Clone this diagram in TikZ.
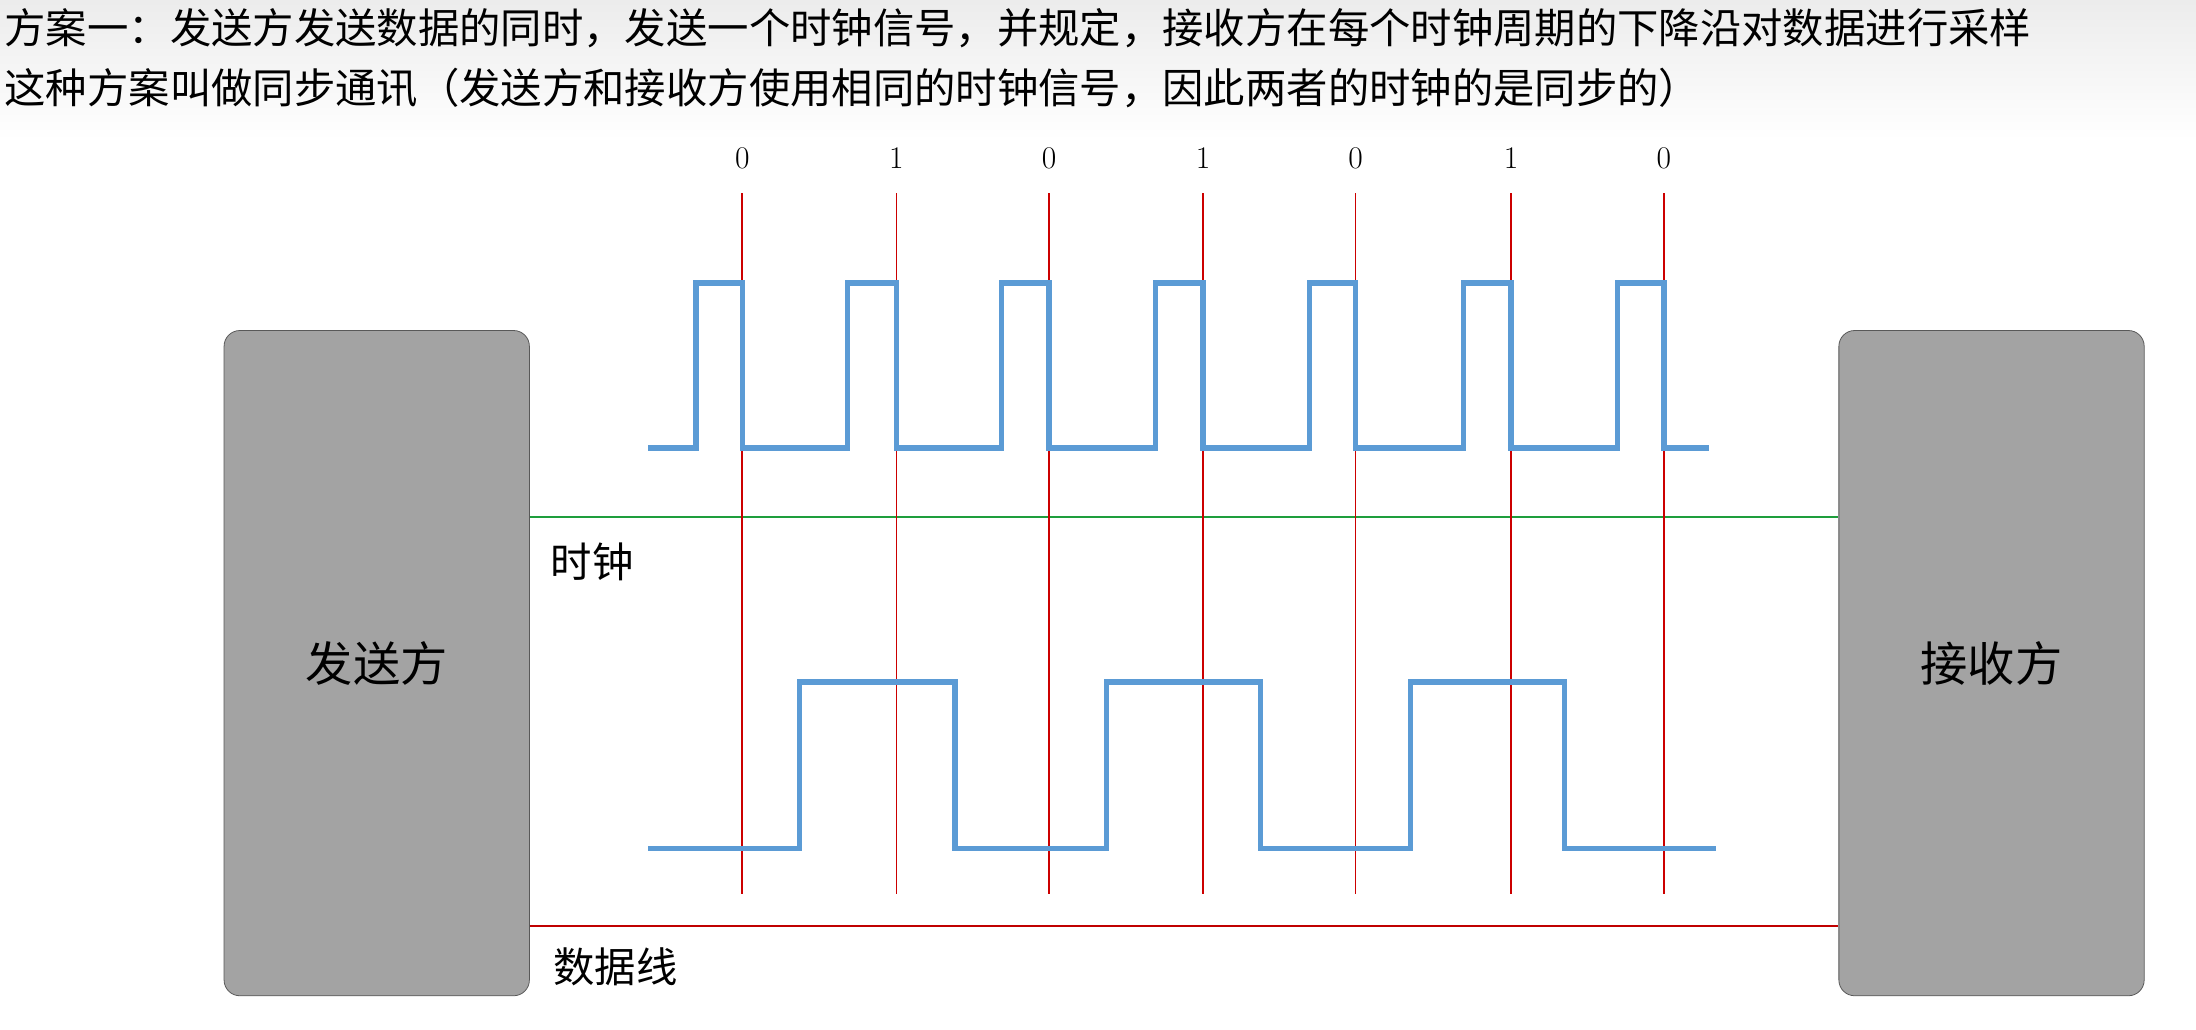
\documentclass[tikz,border=0pt]{standalone}
\usepackage{fontspec}
\newfontfamily\cjk{Noto Sans CJK SC}
\usetikzlibrary{positioning}
\definecolor{sigblue}{HTML}{5B9BD5}
\definecolor{boxgray}{HTML}{A3A3A3}
\definecolor{lineRed}{HTML}{C00000}
\definecolor{lineGreen}{HTML}{1E9E3C}

\begin{document}
\begin{tikzpicture}[x=0.025cm,y=-0.025cm,
    party/.style={draw=gray!70!black,fill=boxgray,rounded corners=8pt,minimum width=218*0.025cm,minimum height=475*0.025cm,font=\cjk\fontsize{24}{28}\selectfont},
    sig/.style={sigblue,line width=2.8pt},
    tick/.style={red!80!black,line width=0.8pt},
    lab/.style={font=\cjk\fontsize{21}{25}\selectfont,anchor=west,inner sep=0pt}]
    \useasboundingbox (0,0) rectangle (1568,735);
    % header
    \fill[top color=gray!15,bottom color=white] (0,0) rectangle (1568,100);
    \node[lab] (head1) at (3,20) {方案一：发送方发送数据的同时，发送一个时钟信号，并规定，接收方在每个时钟周期的下降沿对数据进行采样};
    \node[lab] (head2) at (3,63) {这种方案叫做同步通讯（发送方和接收方使用相同的时钟信号，因此两者的时钟的是同步的）};

    % the two parties
    \node[party] (send) at (269,473.5) {发送方};
    \node[party] (recv) at (1422,473.5) {接收方};

    % clock and data lines
    \draw[lineGreen,line width=1.2pt] (send.east |- 0,369) -- (recv.west |- 0,369);
    \node[lab] (clk) at (393,401) {时钟};
    \draw[lineRed,line width=1.2pt] (send.east |- 0,661) -- (recv.west |- 0,661);
    \node[lab] (dat) at (395,690) {数据线};

    % sampling edges with the bits read
    \foreach \x/\b in {530/0,640/1,749/0,859/1,968/0,1079/1,1188/0} {
        \draw[tick] (\x,138) -- (\x,638);
        \node[font=\fontsize{16}{19}\selectfont] (bit\x) at (\x,113) {\b};
    }

    % clock signal
    \draw[sig] (463,320) \foreach \r/\f in {497/530,605/640,715/749,825/859,935/968,1045/1079,1155/1188} {
        -- (\r,320) -- (\r,202) -- (\f,202) -- (\f,320)} -- (1220,320);

    % data signal
    \draw[sig] (463,606) \foreach \r/\f in {571/682,790/900,1007/1117} {
        -- (\r,606) -- (\r,487) -- (\f,487) -- (\f,606)} -- (1225,606);
\end{tikzpicture}
\end{document}
